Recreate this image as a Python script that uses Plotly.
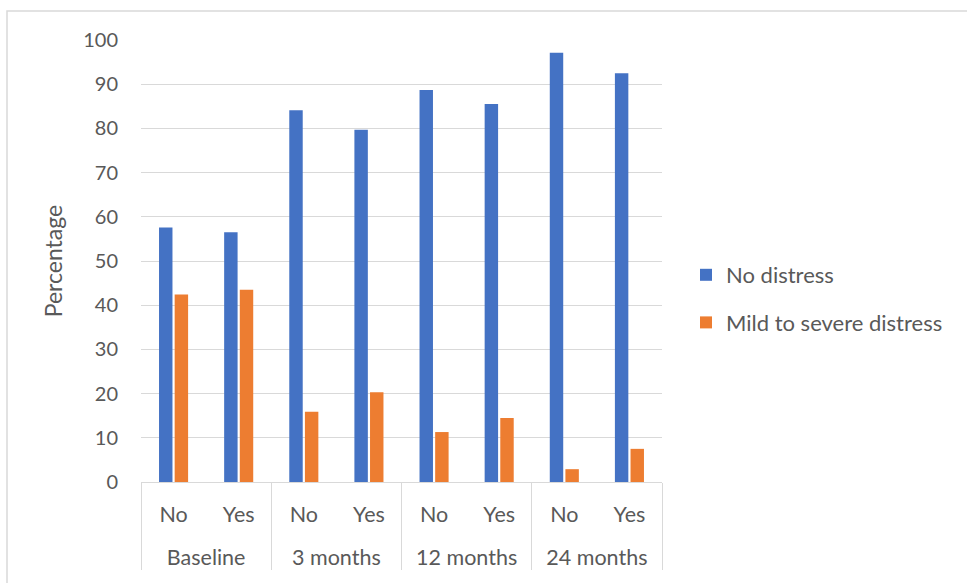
import plotly.graph_objects as go

timepoints = ["Baseline", "3 months", "12 months", "24 months"]
answers = ["No", "Yes"]
no_distress = [57.6, 56.5, 84.1, 79.7, 88.7, 85.5, 97.1, 92.5]
mild_to_severe = [42.4, 43.5, 15.9, 20.3, 11.3, 14.5, 2.9, 7.5]
series_names = ["No distress", "Mild to severe distress"]
colors = ["#4472C4", "#ED7D31"]

outer = [t for t in timepoints for _ in answers]
# trailing blank line gives the lower label row the extra room it has in the reference
inner = [a + "<br> " for _ in timepoints for a in answers]

FONT = "Lato, Open Sans, Arial, sans-serif"
GREY = "#595959"

W, H = 967, 583
L, R, T, B = 141, 305, 40, 101
PW, PH = W - L - R, H - T - B

fig = go.Figure()
for name, vals, col in zip(series_names, [no_distress, mild_to_severe], colors):
    fig.add_trace(go.Bar(
        x=[outer, inner], y=vals, name=name, legendgroup=name,
        marker=dict(color=col, line=dict(width=0)),
    ))

fig.update_layout(
    width=W, height=H,
    margin=dict(l=L, r=R, t=T, b=B),
    paper_bgcolor="white", plot_bgcolor="white",
    barmode="group", bargap=0.52, bargroupgap=0.14,
    font=dict(family=FONT, size=20, color=GREY),
    legend=dict(x=(686 - L) / PW, y=(482 - 299) / PH, xanchor="left", yanchor="middle",
                font=dict(size=22, color=GREY), tracegroupgap=16,
                itemwidth=30),
    showlegend=True,
    shapes=[dict(type="rect", xref="paper", yref="paper",
                 x0=(7 - L) / PW, x1=(W + 20 - L) / PW,
                 y0=-(H + 20 - (T + PH)) / PH, y1=(T + PH - 11) / PH,
                 line=dict(color="#D9D9D9", width=1.5), fillcolor="rgba(0,0,0,0)",
                 layer="below")],
)
fig.update_yaxes(range=[0, 100], dtick=10, showgrid=True, gridcolor="#D9D9D9",
                 gridwidth=1, zeroline=False, showline=False, ticks="",
                 ticklabelstandoff=22,
                 title=dict(text="Percentage", font=dict(size=23, color=GREY), standoff=14),
                 tickfont=dict(size=20, color=GREY))
fig.update_xaxes(showline=True, linecolor="#D9D9D9", linewidth=1,
                 showdividers=True, dividercolor="#D9D9D9", dividerwidth=1,
                 tickfont=dict(size=21.5, color=GREY), ticks="",
                 ticklabelstandoff=13)

fig.write_html("out.html", config={"displayModeBar": False},
               post_script="document.body.style.margin='0px';")
